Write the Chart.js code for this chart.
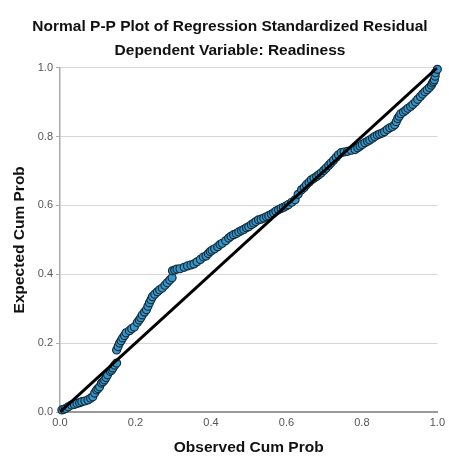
<!DOCTYPE html>
<html>
<head>
<meta charset="utf-8">
<script src="https://cdn.jsdelivr.net/npm/chart.js@4.4.1/dist/chart.umd.min.js"></script>
<style>
  body { margin: 0; background: #fff; }
</style>
</head>
<body>
<canvas id="pp-plot" width="449" height="457"></canvas>
<script>
// observed cum prob (x) and expected cum prob (y)
const observed = [
  0.005, 0.01, 0.015, 0.022, 0.03, 0.038, 0.045, 0.052, 0.058, 0.066,
  0.074, 0.081, 0.087, 0.092, 0.097, 0.101, 0.105, 0.11, 0.114, 0.118,
  0.122, 0.126, 0.133, 0.137, 0.14, 0.145, 0.15, 0.15, 0.154, 0.158,
  0.162, 0.166, 0.171, 0.175, 0.184, 0.19, 0.197, 0.205, 0.21, 0.214,
  0.218, 0.224, 0.229, 0.233, 0.237, 0.241, 0.245, 0.251, 0.258, 0.264,
  0.271, 0.278, 0.284, 0.291, 0.297, 0.298, 0.304, 0.31, 0.318, 0.329,
  0.338, 0.347, 0.355, 0.363, 0.372, 0.38, 0.387, 0.393, 0.398, 0.403,
  0.41, 0.418, 0.424, 0.43, 0.439, 0.447, 0.453, 0.46, 0.467, 0.474,
  0.481, 0.487, 0.494, 0.5, 0.507, 0.513, 0.519, 0.526, 0.533, 0.54,
  0.547, 0.553, 0.56, 0.566, 0.572, 0.579, 0.586, 0.592, 0.599, 0.605,
  0.614, 0.623, 0.631, 0.64, 0.647, 0.653, 0.66, 0.666, 0.673, 0.68,
  0.686, 0.692, 0.699, 0.705, 0.712, 0.718, 0.725, 0.732, 0.738, 0.745,
  0.753, 0.762, 0.772, 0.782, 0.789, 0.795, 0.801, 0.808, 0.815, 0.821,
  0.828, 0.834, 0.841, 0.847, 0.854, 0.86, 0.867, 0.874, 0.881, 0.887,
  0.891, 0.895, 0.899, 0.903, 0.91, 0.916, 0.922, 0.929, 0.935, 0.942,
  0.948, 0.955, 0.961, 0.967, 0.973, 0.979, 0.984, 0.987, 0.99, 0.992,
  0.994, 0.995, 1.0
]
const expected = [
  0.006, 0.008, 0.01, 0.015, 0.02, 0.022, 0.025, 0.027, 0.03, 0.032,
  0.035, 0.04, 0.044, 0.055, 0.064, 0.068, 0.073, 0.084, 0.088, 0.093,
  0.1, 0.108, 0.118, 0.122, 0.128, 0.136, 0.142, 0.18, 0.19, 0.2,
  0.207, 0.215, 0.222, 0.23, 0.236, 0.242, 0.247, 0.26, 0.267, 0.274,
  0.282, 0.29, 0.297, 0.307, 0.317, 0.326, 0.335, 0.342, 0.349, 0.355,
  0.36, 0.368, 0.375, 0.383, 0.39, 0.41, 0.412, 0.415, 0.416, 0.42,
  0.424, 0.427, 0.43, 0.436, 0.443, 0.45, 0.453, 0.46, 0.466, 0.47,
  0.474, 0.48, 0.486, 0.49, 0.497, 0.505, 0.51, 0.515, 0.518, 0.523,
  0.527, 0.53, 0.535, 0.538, 0.544, 0.548, 0.553, 0.558, 0.56, 0.563,
  0.567, 0.57, 0.574, 0.578, 0.583, 0.587, 0.591, 0.594, 0.598, 0.602,
  0.609, 0.616, 0.632, 0.645, 0.652, 0.66, 0.667, 0.674, 0.679, 0.684,
  0.689, 0.694, 0.701, 0.708, 0.716, 0.723, 0.731, 0.74, 0.747, 0.753,
  0.755, 0.757, 0.76, 0.762, 0.767, 0.772, 0.777, 0.782, 0.786, 0.79,
  0.795, 0.8, 0.804, 0.807, 0.81, 0.814, 0.82, 0.825, 0.829, 0.834,
  0.843, 0.852, 0.859, 0.866, 0.871, 0.876, 0.882, 0.887, 0.893, 0.9,
  0.908, 0.916, 0.923, 0.93, 0.936, 0.942, 0.949, 0.955, 0.96, 0.965,
  0.975, 0.985, 0.995
]
const refLine = [0, 1]
const xTicks = [0, 0.2, 0.4, 0.6, 0.8, 1.0]
const yTicks = [0, 0.2, 0.4, 0.6, 0.8, 1.0]

const titleLines = ['Normal P-P Plot of Regression Standardized Residual', 'Dependent Variable: Readiness']
const fontFamily = '"Liberation Sans", Arial, sans-serif'

let points = observed.map((x, i) => ({ x: x, y: expected[i] }))
let linePoints = refLine.map(v => ({ x: v, y: v }))

let ctx = document.getElementById('pp-plot')
let chart = new Chart(ctx, {
  type: 'scatter',
  data: {
    datasets: [{
      type: 'line',
      data: linePoints,
      borderColor: '#000',
      borderWidth: 3,
      pointRadius: 0,
      order: 0
    }, {
      data: points,
      backgroundColor: '#3596cc',
      borderColor: '#142b38',
      borderWidth: 1.2,
      pointRadius: 4,
      clip: false,
      order: 1
    }]
  },
  options: {
    responsive: false,
    animation: false,
    // left padding shifts the title centre to match the original
    layout: { padding: { left: 20, right: 9 } },
    plugins: {
      legend: { display: false },
      tooltip: { enabled: false },
      title: {
        display: true,
        text: titleLines,
        color: '#111',
        font: { family: fontFamily, size: 15.5, weight: 'bold', lineHeight: 1.6 },
        padding: { top: 14, bottom: 4 }
      }
    },
    scales: {
      x: {
        type: 'linear',
        min: 0,
        max: 1,
        afterFit: scale => { scale.height = 45 },
        afterBuildTicks: axis => { axis.ticks = xTicks.map(v => ({ value: v })) },
        grid: { display: false, drawTicks: false },
        border: { display: true, color: '#9a9a9a', width: 2 },
        ticks: {
          padding: 4,
          color: '#555',
          font: { family: fontFamily, size: 11 },
          callback: v => v.toFixed(1)
        },
        title: {
          display: true,
          text: 'Observed Cum Prob',
          color: '#111',
          font: { family: fontFamily, size: 15.5, weight: 'bold' },
          padding: { top: 0, bottom: 0 }
        }
      },
      y: {
        min: 0,
        max: 1,
        afterFit: scale => { scale.width = 40 },
        afterBuildTicks: axis => { axis.ticks = yTicks.map(v => ({ value: v })) },
        grid: { color: '#d6d6d6', lineWidth: 1, tickLength: 4, tickColor: '#aaa' },
        border: { display: true, color: '#aaa', width: 1.5 },
        ticks: {
          padding: 3,
          color: '#555',
          font: { family: fontFamily, size: 11 },
          callback: v => v.toFixed(1)
        },
        title: {
          display: true,
          text: 'Expected Cum Prob',
          color: '#111',
          font: { family: fontFamily, size: 15.5, weight: 'bold' },
          padding: { top: -10, bottom: 0 }
        }
      }
    }
  }
})
</script>
</body>
</html>
